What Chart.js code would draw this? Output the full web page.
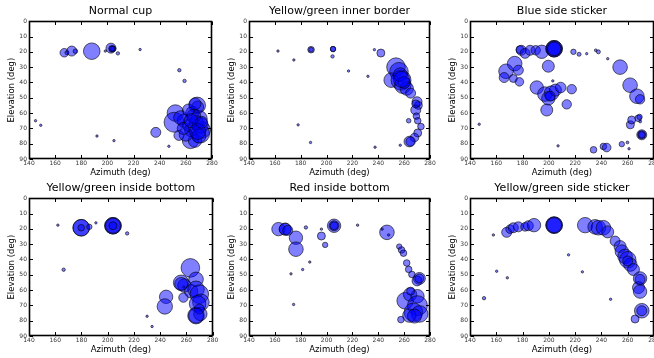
<!DOCTYPE html>
<html>
<head>
<meta charset="utf-8">
<script src="https://cdn.jsdelivr.net/npm/chart.js@4.4.1/dist/chart.umd.min.js"></script>
<style>
  body { margin: 0; background: #fff; width: 654px; height: 358px; overflow: hidden; position: relative; }
  canvas { position: absolute; }
</style>
</head>
<body>
<script>
// panel titles
var titles = ['Normal cup', 'Yellow/green inner border', 'Blue side sticker',
  'Yellow/green inside bottom', 'Red inside bottom', 'Yellow/green side sticker'];

// tick labels
var azTicks = [140, 160, 180, 200, 220, 240, 260, 280];
var elTicks = [0, 10, 20, 30, 40, 50, 60, 70, 80, 90];

// Normal cup
var cupAz = [167, 169, 172.7, 175.5, 188, 202.7, 203.5, 204.5, 203.5, 208, 198.4, 225, 255, 259, 145, 149, 192, 205, 237, 247,
  252, 251, 258.5, 265, 268.7, 270, 272.5, 271, 263.6, 254.7, 267, 264, 260, 262, 268, 256, 269, 271, 266, 262, 258, 270, 267, 264, 269, 272];
var cupEl = [20.6, 20.6, 19.5, 19.6, 19.6, 17.6, 18, 18, 18, 21, 19.5, 18.5, 32, 39, 65, 68, 75, 78, 72.6, 81.7,
  60, 66, 65, 60, 55, 63.7, 71, 73.5, 77.8, 74.6, 78, 71, 74, 68, 66, 63, 56, 68, 62, 58, 70, 75, 54, 65, 72, 66];
var cupSize = [4.3, 2, 5, 2.3, 8.3, 5, 3.3, 2.7, 2.7, 1.7, 1.2, 1.2, 1.7, 1.7, 1.2, 1.2, 1.2, 1.2, 5, 1.2,
  8.3, 10, 6.7, 6.7, 8.3, 8.3, 8.3, 9.3, 8.3, 5, 6.7, 6.7, 6.7, 6, 7, 7, 6, 8, 7, 6, 6, 7, 6, 7, 8, 6];

// Yellow/green inner border
var innerAz = [162.4, 174.7, 178, 187.6, 188, 188, 205, 205, 204.6, 217, 232, 237, 242, 237.5, 257, 263.5,
  253.7, 256, 250, 257.6, 259, 262, 265, 270, 271, 269, 269.5, 270.5, 273, 270.5, 268, 264, 265, 257, 260, 258, 269];
var innerEl = [19.5, 25.3, 67.7, 79.2, 18.6, 18.6, 18.2, 18.2, 23, 32.5, 36, 18.6, 20.8, 82.3, 81, 65,
  30, 33, 38.5, 38.5, 41.8, 44, 47, 52.6, 55, 58, 62, 65, 68.8, 73, 76, 78.6, 78.6, 35, 40, 38, 54];
var innerSize = [1.2, 1.2, 1.2, 1.2, 3.3, 2.3, 2.7, 2.7, 1.7, 1.2, 1.2, 1.2, 4, 1.2, 1.2, 2.3,
  9.3, 9.3, 7.3, 10, 8.3, 6.7, 5, 5, 4, 5, 3.3, 3.3, 3.3, 4, 4.3, 5.3, 4.7, 7, 6, 8, 4];

// Blue side sticker
var blueAz = [147, 178, 179, 181.9, 185.7, 190, 194.6, 204, 204, 204, 204, 167.4, 166, 174, 176.8, 173, 177.6, 199.6, 203,
  190.8, 197, 202, 199.6, 205, 201, 209, 217.4, 213.6, 198.4, 207, 218.7, 223, 228.8, 235.7, 237.7, 244.8,
  254.2, 261.8, 267, 269.4, 262, 263, 268, 269, 269.5, 270.7, 270.7, 270.7, 234, 241.5, 244, 255.5, 259.8, 261];
var blueEl = [67.3, 18.6, 19, 21, 19, 19, 20, 18, 18, 18, 18, 32.7, 36.8, 27.7, 32, 37.4, 39.6, 29.4, 39,
  43.3, 47.6, 47, 50.4, 45, 49, 43.3, 44.4, 54.3, 58, 81.4, 20, 21.6, 21.2, 19, 20, 24.5,
  30, 41.8, 49, 51, 67.7, 64.5, 63.4, 62.5, 65.5, 74.2, 74.2, 74.2, 84, 81.8, 82.5, 80.3, 79.2, 83.3];
var blueSize = [1.2, 4, 5, 5, 5, 4.7, 6.7, 8.3, 8.3, 7.5, 6.7, 7.3, 5, 7.3, 5, 4, 4.3, 6, 1.2,
  6.7, 7.3, 7.3, 6.7, 6, 5, 5.3, 4.7, 4.7, 6, 1.2, 2.7, 2, 1.2, 1.4, 2, 1.2,
  7.3, 7.3, 7.3, 4.7, 4, 4, 3.3, 2.7, 1.4, 5, 4, 3.3, 3.3, 3.3, 4.3, 2.7, 1.4, 1.2];

// Yellow/green inside bottom
var bottomAz = [162, 166.4, 179.8, 179.8, 179.8, 186, 191, 204, 204, 204, 204, 214.8, 230, 233.8, 244.5, 243.5,
  263, 267.3, 255.9, 258.4, 257.7, 263.6, 267.3, 269.8, 271, 268.5, 267.3, 270.6, 269.8, 258, 256, 267.3];
var bottomEl = [17.6, 46.7, 19.3, 19.3, 19.3, 18.7, 16.1, 18, 18, 18, 18, 23, 77.1, 83.8, 64.4, 70.7,
  45.5, 53, 55.2, 57, 64.9, 60.8, 59.5, 62.7, 68, 69, 76.7, 75.6, 72.4, 58, 56, 76.7];
var bottomSize = [1.2, 1.7, 8.3, 8.3, 3.3, 2.7, 1.2, 8.3, 8.3, 7.5, 4, 1.7, 1.2, 1.2, 6.7, 7.7,
  9.3, 7.3, 7.7, 6.7, 4.7, 6.7, 8.3, 9.3, 8.3, 8.3, 8.3, 6.7, 5, 1.2, 6.5, 7.5];

// Red inside bottom
var redAz = [162.8, 168, 168, 170, 176.3, 176.3, 184, 196, 198.9, 196, 205.8, 205.8, 205.8, 172.5, 181.5, 187, 174.5,
  224, 246.7, 248, 243, 256.2, 258, 259.5, 262, 263.5, 266, 271.8, 270, 260.8, 264.6, 270.3, 270.3, 267.2, 272, 264, 257.5, 265, 268, 271.8];
var redEl = [20.2, 20.2, 20.2, 21, 25.8, 33.3, 19.1, 24.7, 30.5, 20.2, 18, 18, 18, 49.4, 46.6, 41.7, 69.4,
  17.6, 22.3, 24, 20.2, 31.6, 33.8, 35.9, 42.3, 46.5, 49.8, 52.4, 54, 67, 62.9, 64, 70.2, 74.5, 75.6, 76.7, 79.3, 60.7, 77, 52.4];
var redSize = [6.7, 6, 6, 5, 6.7, 7.3, 1.7, 4, 2.7, 1.2, 6.7, 5, 4, 1.2, 1.2, 1.2, 1.2,
  1.2, 7.3, 1.2, 1.2, 2.7, 3.3, 3.3, 3.3, 3.3, 3.3, 6, 5, 8.3, 6.7, 6.7, 10, 9.3, 8.3, 6.7, 3.3, 4, 7, 4.5];

// Yellow/green side sticker
var sideAz = [150.7, 157.8, 160.3, 168.4, 167.9, 170.5, 173, 176.8, 181.9, 184.4, 188.7, 204, 204, 204, 215, 225.5, 247,
  227.6, 235.2, 237.7, 241.5, 244.8, 250.4, 254.2, 255.5, 258, 260, 262, 264.4, 269.4, 268.2, 269.4, 270.7, 265.6, 270.7, 260, 269.4];
var sideEl = [65.3, 24, 47.7, 52, 22.3, 20.2, 19.3, 18.7, 18.7, 18, 17.6, 17.6, 17.6, 17.6, 37, 48.1, 66,
  17.6, 18.7, 19.3, 19.3, 22, 28, 31.6, 34.8, 38, 40.2, 43.4, 46.6, 52.4, 58.4, 61, 73.5, 78.9, 73.5, 41, 53];
var sideSize = [1.7, 1.2, 1.2, 1.2, 5, 4.3, 5, 5, 4.3, 5, 6.7, 8.3, 8.3, 7.5, 1.2, 1.2, 1.2,
  7.7, 7.3, 7.3, 7.3, 6, 5, 6, 6.7, 7.3, 8.3, 6.7, 6, 6.7, 6, 6.7, 7.3, 4, 5, 5, 5];

var panelAz = [cupAz, innerAz, blueAz, bottomAz, redAz, sideAz];
var panelEl = [cupEl, innerEl, blueEl, bottomEl, redEl, sideEl];
var panelSize = [cupSize, innerSize, blueSize, bottomSize, redSize, sideSize];

// where each plot area sits on the page
var plotLeft = [29, 249, 470];
var plotWidth = [184, 182, 184];
var plotTop = [21, 198];
var plotHeight = 138;

var fontName = "'DejaVu Sans', sans-serif";

// frame on all four sides and inward tick marks (classic matplotlib look)
var framePlugin = {
  id: 'boxticks',
  afterDraw: function (chart) {
    var ctx = chart.ctx;
    var a = chart.chartArea;
    var xs = chart.scales.x;
    var ys = chart.scales.y;
    var l = Math.round(a.left) + 0.5, r = Math.round(a.right) - 0.5;
    var t = Math.round(a.top) + 0.5, b = Math.round(a.bottom) - 0.5;
    ctx.save();
    ctx.strokeStyle = '#000';
    ctx.lineWidth = 1.6;
    ctx.strokeRect(l, t, r - l, b - t);
    ctx.lineWidth = 1;
    ctx.beginPath();
    azTicks.forEach(function (v) {
      var px = Math.round(xs.getPixelForValue(v)) + 0.5;
      ctx.moveTo(px, b); ctx.lineTo(px, b - 3.5);
      ctx.moveTo(px, t); ctx.lineTo(px, t + 3.5);
    });
    elTicks.forEach(function (v) {
      var py = Math.round(ys.getPixelForValue(v)) + 0.5;
      ctx.moveTo(l, py); ctx.lineTo(l + 3.5, py);
      ctx.moveTo(r, py); ctx.lineTo(r - 3.5, py);
    });
    ctx.stroke();
    ctx.restore();
  }
};

function makePanel(p) {
  var col = p % 3;
  var row = Math.floor(p / 3);
  var canvas = document.createElement('canvas');
  canvas.width = 29 + plotWidth[col] + 10;
  canvas.height = 21 + plotHeight + 21;
  canvas.style.left = (plotLeft[col] - 29) + 'px';
  canvas.style.top = (plotTop[row] - 21) + 'px';
  document.body.appendChild(canvas);

  var points = [];
  for (var k = 0; k < panelAz[p].length; k++) {
    points.push({ x: panelAz[p][k], y: panelEl[p][k], r: panelSize[p][k] });
  }

  new Chart(canvas.getContext('2d'), {
    type: 'bubble',
    data: {
      datasets: [{
        data: points,
        backgroundColor: 'rgba(0,0,255,0.5)',
        borderColor: 'rgba(0,0,0,0.6)',
        borderWidth: 1,
        clip: 0
      }]
    },
    options: {
      responsive: false,
      devicePixelRatio: 1,
      animation: false,
      events: [],
      layout: { padding: { left: 0, right: 10, top: 0, bottom: 0 } },
      plugins: {
        legend: { display: false },
        tooltip: { enabled: false },
        title: {
          display: true,
          text: titles[p],
          fullSize: false,
          color: '#000',
          font: { family: fontName, size: 11, weight: 'normal' },
          padding: { top: 5, bottom: 3 }
        }
      },
      scales: {
        x: {
          type: 'linear',
          min: 140,
          max: 280,
          afterBuildTicks: function (s) { s.ticks = azTicks.map(function (v) { return { value: v }; }); },
          afterFit: function (s) { s.height = 21; },
          grid: { display: false, drawTicks: false },
          border: { display: false },
          ticks: { color: '#333', font: { family: fontName, size: 6 }, padding: 1, maxRotation: 0 },
          title: {
            display: true,
            text: 'Azimuth (deg)',
            color: '#000',
            font: { family: fontName, size: 8.5 },
            padding: { top: 0, bottom: 2 }
          }
        },
        y: {
          type: 'linear',
          min: 0,
          max: 90,
          reverse: true,
          afterBuildTicks: function (s) { s.ticks = elTicks.map(function (v) { return { value: v }; }); },
          afterFit: function (s) { s.width = 29; },
          grid: { display: false, drawTicks: false },
          border: { display: false },
          ticks: { color: '#333', font: { family: fontName, size: 6 }, padding: 2 },
          title: {
            display: true,
            text: 'Elevation (deg)',
            color: '#000',
            font: { family: fontName, size: 8.5 },
            padding: { top: 6.5, bottom: 0 }
          }
        }
      }
    },
    plugins: [framePlugin]
  });
}

for (var n = 0; n < 6; n++) {
  makePanel(n);
}
</script>
</body>
</html>
